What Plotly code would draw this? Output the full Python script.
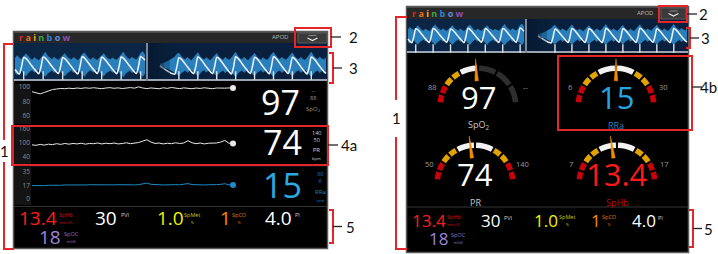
import plotly.graph_objects as go

W, H = 718, 254

# ===================== data =====================
spo2_trend = [93.5, 92.0, 90.5, 92.5, 95.0, 96.5, 97.2, 98.0, 97.6, 98.4,
              97.8, 98.6, 98.0, 98.9, 98.2, 99.0, 98.3, 97.7, 98.6, 99.1,
              98.2, 98.8, 97.9, 98.5, 99.2, 98.4, 100.2, 98.6, 97.8, 98.7,
              98.3, 97.6, 98.9, 98.1, 99.3, 98.4, 97.7, 98.8, 98.2, 97.6,
              98.6, 98.0, 98.9, 98.3, 97.7, 98.6, 98.1, 98.4, 98.7, 98.5]
pr_trend = [92, 90, 94, 91, 95, 93, 97, 94, 98, 95,
            98, 96, 99, 95, 98, 97, 100, 96, 99, 97,
            100, 96, 98, 101, 97, 99, 102, 108, 114, 104,
            98, 100, 96, 99, 97, 101, 98, 100, 110, 101,
            97, 100, 96, 99, 98, 100, 104, 111, 99, 98]
rra_trend = [17.4, 17.2, 17.6, 17.3, 17.8, 17.6, 18.0, 17.8, 18.2, 18.0,
             18.3, 18.1, 18.4, 18.2, 18.5, 18.3, 18.6, 18.4, 18.2, 18.5,
             18.3, 18.6, 18.4, 18.2, 18.5, 18.3, 18.6, 19.4, 20.6, 19.0,
             18.3, 18.5, 18.2, 18.5, 18.3, 18.6, 18.4, 18.9, 20.0, 18.7,
             18.3, 18.5, 18.2, 18.5, 18.3, 18.6, 19.0, 19.8, 18.4, 18.2]
spo2_ticks = [100, 80, 60]
pr_ticks = [160, 100, 40]
rra_ticks = [35, 17, 0]

# pleth waveform (normalised, trough 0 .. peak 1), sweep before / after the erase bar
pleth_a = [0.30, 0.15, 0.05, 0.45, 0.98, 0.92, 0.79, 0.63, 0.47, 0.32,
           0.18, 0.07, 0.46, 1.00, 0.94, 0.80, 0.64, 0.48, 0.33, 0.19,
           0.08, 0.44, 0.97, 0.91, 0.78, 0.62, 0.47, 0.31, 0.17, 0.06,
           0.47, 1.02, 0.95, 0.81, 0.65, 0.49, 0.34, 0.20, 0.08, 0.45,
           0.99, 0.93, 0.79, 0.63, 0.48, 0.32, 0.18, 0.07, 0.46, 1.00,
           0.94, 0.80, 0.64, 0.49, 0.33, 0.19, 0.08, 0.48, 1.03, 0.95,
           0.82]
pleth_b = [0.50, 0.42, 0.34, 0.26, 0.19, 0.12, 0.07, 0.04, 0.44, 0.96,
           0.90, 0.77, 0.61, 0.46, 0.31, 0.17, 0.07, 0.45, 1.00, 0.93,
           0.79, 0.63, 0.47, 0.32, 0.18, 0.07, 0.46, 0.98, 0.92, 0.78,
           0.62, 0.46, 0.31, 0.17, 0.06, 0.44, 1.01, 0.94, 0.80, 0.64,
           0.48, 0.33, 0.19, 0.08, 0.47, 0.99, 0.92, 0.79, 0.63, 0.47,
           0.32, 0.18, 0.07, 0.45, 1.02, 0.95, 0.81, 0.65, 0.49, 0.34,
           0.20, 0.08, 0.46, 0.98, 0.91, 0.78, 0.62, 0.46, 0.31, 0.17,
           0.06, 0.45, 1.00, 0.93, 0.80, 0.64, 0.48, 0.33, 0.19, 0.09]
pleth_a_beats = [4, 13, 22, 31, 40, 49, 58]
pleth_b_beats = [9, 18, 27, 36, 45, 54, 63, 72]

# signal-quality band (upper / lower envelope, same sampling as the pleth)
iq_a_hi = [0.92, 1.08, 0.95, 0.86, 1.02, 1.18, 1.05, 0.90, 0.84, 0.97,
           0.88, 0.80, 0.94, 1.12, 1.26, 1.06, 0.93, 0.86, 0.99, 0.89,
           0.82, 0.95, 1.10, 1.20, 1.01, 0.90, 0.84, 0.98, 0.87, 0.80,
           0.93, 1.14, 1.24, 1.04, 0.91, 0.85, 0.97, 0.88, 0.82, 0.96,
           1.10, 1.19, 1.00, 0.90, 0.86, 0.95, 0.88, 0.83, 0.97, 1.16,
           1.28, 1.06, 0.93, 0.87, 0.99, 0.90, 0.84, 1.00, 1.21, 1.30,
           1.10]
iq_a_lo = [0.12, 0.02, 0.18, 0.25, 0.08, -0.05, 0.10, 0.22, 0.28, 0.15,
           0.24, 0.30, 0.20, 0.05, -0.08, 0.08, 0.20, 0.27, 0.14, 0.23,
           0.29, 0.18, 0.04, -0.06, 0.10, 0.21, 0.28, 0.13, 0.24, 0.30,
           0.19, 0.03, -0.09, 0.09, 0.22, 0.27, 0.15, 0.25, 0.31, 0.17,
           0.02, -0.07, 0.11, 0.21, 0.26, 0.14, 0.24, 0.29, 0.16, 0.03,
           -0.10, 0.08, 0.20, 0.27, 0.13, 0.23, 0.30, 0.15, 0.01, -0.08,
           0.10]
iq_b_hi = [0.60, 0.63, 0.67, 0.72, 0.78, 0.85, 0.92, 1.00, 1.15, 1.22,
           1.05, 0.92, 0.86, 0.98, 0.88, 0.81, 0.95, 1.12, 1.25, 1.04,
           0.91, 0.85, 0.97, 0.87, 0.80, 0.94, 1.09, 1.20, 1.02, 0.90,
           0.84, 0.98, 0.89, 0.83, 0.96, 1.13, 1.27, 1.05, 0.92, 0.86,
           0.99, 0.88, 0.81, 0.95, 1.10, 1.21, 1.03, 0.90, 0.85, 0.97,
           0.87, 0.82, 0.96, 1.15, 1.26, 1.06, 0.93, 0.87, 0.98, 0.89,
           0.83, 0.97, 1.12, 1.23, 1.04, 0.91, 0.86, 0.99, 0.88, 0.82,
           0.95, 1.14, 1.28, 1.07, 0.94, 0.88, 1.00, 0.90, 0.85, 0.97]
iq_b_lo = [0.50, 0.47, 0.43, 0.38, 0.33, 0.27, 0.22, 0.15, 0.05, -0.04,
           0.10, 0.21, 0.27, 0.14, 0.24, 0.30, 0.19, 0.04, -0.07, 0.09,
           0.22, 0.28, 0.15, 0.25, 0.31, 0.18, 0.03, -0.06, 0.10, 0.21,
           0.27, 0.13, 0.23, 0.29, 0.17, 0.02, -0.09, 0.08, 0.20, 0.26,
           0.14, 0.24, 0.30, 0.18, 0.04, -0.05, 0.11, 0.22, 0.28, 0.15,
           0.25, 0.31, 0.17, 0.02, -0.08, 0.09, 0.21, 0.27, 0.13, 0.23,
           0.29, 0.16, 0.03, -0.07, 0.10, 0.22, 0.28, 0.14, 0.24, 0.30,
           0.18, 0.02, -0.10, 0.08, 0.20, 0.26, 0.12, 0.23, 0.29, 0.16]

trend_names = ["SpO<sub>2</sub>", "PR", "RRa"]
trend_values = ["97", "74", "15"]
trend_hi = ["--", "140", "30"]
trend_lo = ["88", "50", "6"]
trend_units = ["", "bpm", "rpm"]

gauge_names = ["SpO<sub>2</sub>", "RRa", "PR", "SpHb"]
gauge_values = ["97", "15", "74", "13.4"]
gauge_lo = ["88", "6", "50", "7"]
gauge_hi = ["--", "30", "140", "17"]
gauge_needle_deg = [93, 90, 97, 98]

param_names = ["SpHb", "PVI", "SpMet", "SpCO", "PI", "SpOC"]
param_values = ["13.4", "30", "1.0", "1", "4.0", "18"]
param_units = ["mmol/L", "", "%", "%", "", "ml/dl"]

callouts_left = ["1", "2", "3", "4a", "5"]
callouts_right = ["1", "2", "3", "4b", "5"]

# ===================== styles / layout constants =====================
FONT = "Open Sans"
LFONT = "Lato"
RED = "#e3262a"
NAVY_A = "#0b2545"
NAVY_B = "#08203d"
GAUGE_COL = {"alarm": "#c8000a", "warn": "#e2a300", "ok": "#f2f2f2", "off": "#2e2e2e"}
NEEDLE = "#f28c00"
PARAM_COL = ["#ff1e1e", "#ffffff", "#f2f200", "#ff8c00", "#ffffff", "#9d86dc"]
PARAM_LCOL = ["#d01414", "#d0d0d0", "#c8c81e", "#e07810", "#d0d0d0", "#8c74cc"]


def PX(x):
    return x / W


def PY(y):
    return 1 - y / H


shapes, ann = [], []


def rect(x0, y0, x1, y1, fill=None, line=None, lw=0, layer="below", opacity=1):
    d = dict(type="rect", xref="paper", yref="paper", x0=PX(x0), x1=PX(x1),
             y0=PY(y1), y1=PY(y0), layer=layer, line=dict(width=lw), opacity=opacity)
    if fill:
        d["fillcolor"] = fill
    if line:
        d["line"]["color"] = line
    shapes.append(d)


def seg(x0, y0, x1, y1, color, lw, layer="above"):
    shapes.append(dict(type="line", xref="paper", yref="paper", x0=PX(x0), x1=PX(x1),
                       y0=PY(y0), y1=PY(y1), layer=layer, line=dict(color=color, width=lw)))


def poly(points, color, lw, layer="above"):
    p = "M " + " L ".join(f"{PX(x):.5f},{PY(y):.5f}" for x, y in points)
    shapes.append(dict(type="path", xref="paper", yref="paper", path=p, layer=layer,
                       line=dict(color=color, width=lw)))


def text(x, y, s, size, color, xa="center", ya="middle", family=FONT):
    ann.append(dict(x=PX(x), y=PY(y), xref="paper", yref="paper", text=s, showarrow=False,
                    xanchor=xa, yanchor=ya, borderpad=0,
                    font=dict(size=size, color=color, family=family)))


def lin_range(d0, d1, v0, p0, v1, p1):
    k = (p1 - p0) / (v1 - v0)
    return [v0 + (d0 - p0) / k, v0 + (d1 - p0) / k]


fig = go.Figure()
layout = {}
axis_k = [0]


def new_axes(xdom, xr, ydom_px, yr, ytick=None):
    axis_k[0] += 1
    k = axis_k[0]
    sx = "" if k == 1 else str(k)
    xa = dict(domain=[PX(xdom[0]), PX(xdom[1])], range=xr, visible=False,
              anchor="y" + sx, fixedrange=True)
    ya = dict(domain=[PY(ydom_px[1]), PY(ydom_px[0])], range=yr, anchor="x" + sx,
              showgrid=False, zeroline=False, showline=False, fixedrange=True, automargin=False)
    if ytick:
        ya.update(tickvals=ytick, ticktext=[str(v) for v in ytick], ticks="",
                  tickfont=dict(size=6.5, color="#8e8e8e", family=FONT))
    else:
        ya["visible"] = False
    layout["xaxis" + sx] = xa
    layout["yaxis" + sx] = ya
    return "x" + sx, "y" + sx


rainbow_cols = ["#e42521", "#ec6a1c", "#f0b414", "#3aa84a", "#2f7fd6", "#5b8fe0", "#8b4fb3"]
rainbow_txt = "<b>" + " ".join(f"<span style='color:{c}'>{ch}</span>"
                               for ch, c in zip("rainbow", rainbow_cols)) + "</b>"


def screen(x0, y0, x1, y1, head_b, wave_b, split):
    rect(x0 - 0.5, y0 - 0.5, x1 + 0.5, y1 + 0.5, fill="#000000", line="#5a5a5a", lw=1.5)
    rect(x0, y0, x1, head_b, fill="#272727")
    seg(x0, y0 + 0.5, x1, y0 + 0.5, "#4a4a4a", 1, layer="below")
    rect(x0, head_b, split, wave_b, fill=NAVY_A)
    rect(split, head_b, x1, wave_b, fill=NAVY_B)
    rect(x0, wave_b - 2, split - 1, wave_b, fill="#9aa5b3")
    rect(split + 1, wave_b - 2, x1, wave_b, fill="#9aa5b3")
    seg(split, head_b, split, wave_b, "#c8d0d8", 1.2, layer="above")
    text(x0 + 4, (y0 + head_b) / 2 + 0.5, rainbow_txt, 9, "#fff", xa="left")


def button(x0, y0, x1, y1):
    rect(x0, y0, x1, y1, fill="#3a3a3a", line="#5c5c5c", lw=1, layer="above")
    cx, cy = (x0 + x1) / 2, (y0 + y1) / 2
    poly([(cx - 5, cy), (cx, cy + 2.5), (cx + 5, cy)], "#e8e8e8", 1.2)
    seg(cx - 4, cy - 2.5, cx + 4, cy - 2.5, "#9a9a9a", 0.8)


def pleth(dom_a, dom_b, a_first, a_last, b_first, b_last, ytop, ybot, v0px, v1px, mark_px, fade):
    yr = lin_range(ybot, ytop, 0, v0px, 1, v1px)
    mark_v = (v0px - mark_px) / (v0px - v1px)
    for dom, first, last, y, hi, lo, beats in [
            (dom_a, a_first, a_last, pleth_a, iq_a_hi, iq_a_lo, pleth_a_beats),
            (dom_b, b_first, b_last, pleth_b, iq_b_hi, iq_b_lo, pleth_b_beats)]:
        n = len(y)
        xr = lin_range(dom[0], dom[1], 0, first, n - 1, last)
        xs, ys = new_axes(dom, xr, (ytop, ybot), yr)
        idx = list(range(n))
        fig.add_trace(go.Scatter(x=idx, y=lo, mode="lines", line=dict(width=0.5, color="rgba(46,140,205,0.9)"),
                                 xaxis=xs, yaxis=ys, hoverinfo="skip"))
        fig.add_trace(go.Scatter(x=idx, y=hi, mode="lines", fill="tonexty",
                                 fillcolor="rgba(46,140,205,0.88)",
                                 line=dict(width=0.5, color="rgba(46,140,205,0.9)"),
                                 xaxis=xs, yaxis=ys, hoverinfo="skip"))
        fig.add_trace(go.Scatter(x=idx, y=y, mode="lines", line=dict(width=1.6, color="#e8eef4", shape="spline", smoothing=0.6),
                                 xaxis=xs, yaxis=ys, hoverinfo="skip"))
        fig.add_trace(go.Scatter(x=beats, y=[mark_v] * len(beats), mode="markers",
                                 marker=dict(symbol="line-ns", size=6, line=dict(width=1.4, color="#dfe4ea")),
                                 xaxis=xs, yaxis=ys, hoverinfo="skip", cliponaxis=False))
    # erase-bar fade at start of the newer sweep
    fx0, fx1 = fade
    step = (fx1 - fx0) / 4
    for i, op in enumerate([0.95, 0.75, 0.5, 0.25]):
        rect(fx0 + i * step, ytop, fx0 + (i + 1) * step, ybot - 2, fill="#071a33", layer="above", opacity=op)


def stacked(x, y, top, bottom, size, small, color, xa="center"):
    s = top if not bottom else f"{top}<br><span style='font-size:{small}px'>{bottom}</span>"
    text(x, y, s, size, color, xa=xa)


# ===================== LEFT screen (trend view) =====================
screen(14, 32, 327, 248, 43, 81, 147)
text(280, 37.5, "APOD", 6, "#b8b8b8")
button(298, 33, 327, 43)
pleth((14, 146), (148, 327), 15, 145, 160, 326, 43, 81, 75, 57, 75.5, (148, 170))

# trend strips
trend_defs = [
    (spo2_trend, spo2_ticks, (84, 124), (100, 87, 60, 116), "#e8e8e8"),
    (pr_trend, pr_ticks, (127, 165), (160, 129, 40, 157), "#e8e8e8"),
    (rra_trend, rra_ticks, (167, 205), (35, 172, 0, 199), "#1b8ac6"),
]
for arr, ticks, (yt, yb), (va, pa, vb, pb), col in trend_defs:
    rect(14, yt, 31, yb, fill="#141414")
    n = len(arr)
    xr = lin_range(31, 327, 0, 32, n - 1, 233)
    yr = lin_range(yb, yt, va, pa, vb, pb)
    xs, ys = new_axes((31, 327), xr, (yt, yb), yr, ytick=ticks)
    fig.add_trace(go.Scatter(x=list(range(n)), y=arr, mode="lines", line=dict(width=1, color=col),
                             xaxis=xs, yaxis=ys, hoverinfo="skip"))
    fig.add_trace(go.Scatter(x=[n - 1], y=[arr[-1]], mode="markers", marker=dict(size=6, color=col),
                             xaxis=xs, yaxis=ys, hoverinfo="skip", cliponaxis=False))
seg(14, 125.5, 327, 125.5, "#1e1e1e", 1, layer="below")
seg(14, 166, 327, 166, "#1e1e1e", 1, layer="below")
seg(14, 206.5, 327, 206.5, "#363636", 1.2, layer="below")

num_pos = [(280, 102), (282, 142), (282, 185)]
num_col = ["#ffffff", "#ffffff", "#2aa9e2"]
small_col = ["#9a9a9a", "#cfcfcf", "#1f86bf"]
small_x = [313, 316, 320]
hilo_y = [94, 136, 177.5]
name_y = [109, 153, 195]
for i in range(3):
    x, y = num_pos[i]
    text(x, y, trend_values[i], 34, num_col[i])
    stacked(small_x[i], hilo_y[i], trend_hi[i], trend_lo[i], 5.5, 5.5, small_col[i])
    stacked(small_x[i], name_y[i], trend_names[i], trend_units[i], 6, 4, small_col[i])


def params(vpos, lx, vsize):
    for i in range(6):
        x, y = vpos[i]
        text(x, y, param_values[i], vsize, PARAM_COL[i])
        if param_units[i]:
            stacked(lx[i], y, param_names[i], param_units[i], 5.5, 3.8, PARAM_LCOL[i], xa="left")
        else:
            text(lx[i], y - 2.5, param_names[i], 5.5, PARAM_LCOL[i], xa="left")


params([(38, 217.5), (106, 217.5), (170, 217.5), (225, 217.5), (278, 217.5), (50, 237)],
       [58, 120, 183, 231, 294, 63], 19)

# ===================== RIGHT screen (gauge view) =====================
screen(407, 7, 688, 252, 19, 53, 526)
text(645, 13, "APOD", 6, "#b8b8b8")
button(661, 8, 686, 19)
pleth((407, 525), (527, 688), 408, 524, 538, 687, 19, 53, 43.5, 28.5, 48.5, (527, 547))
seg(407, 207, 688, 207, "#363636", 1.2, layer="below")

RP = 48
ARC_IN, ARC_OUT = 0.46, 0.69
sym_zones = ["alarm", "alarm", "warn", "warn", "ok", "ok", "warn", "warn", "alarm", "alarm"]
sym_pitch = [15, 15, 15, 15, 30, 30, 15, 15, 15, 15]
spo2_zones = ["alarm", "alarm", "warn", "warn", "ok", "off", "off", "off"]
spo2_pitch = [15, 15, 15, 15, 30, 30, 30, 30]
gauge_centers = [(478, 106), (616, 106), (475, 183), (617, 183)]
gauge_zone_sets = [(spo2_zones, spo2_pitch), (sym_zones, sym_pitch), (sym_zones, sym_pitch), (sym_zones, sym_pitch)]
gauge_val_col = ["#ffffff", "#25a6e0", "#ffffff", "#ff1a1a"]
gauge_name_col = ["#c8c8c8", "#1e86c4", "#c8c8c8", "#c80000"]


def segments(pitches, start=176.0, end=4.0, gap=3.2):
    scale = (start - end) / sum(pitches)
    th, wd, a = [], [], start
    for p in pitches:
        w = p * scale
        th.append(a - w / 2)
        wd.append(w - gap)
        a -= w
    return th, wd


for j, (cx, cy) in enumerate(gauge_centers):
    pname = "polar" if j == 0 else f"polar{j + 1}"
    layout[pname] = dict(domain=dict(x=[PX(cx - RP), PX(cx + RP)], y=[PY(cy), PY(cy - RP)]),
                         sector=[0, 180], hole=0.5, bgcolor="rgba(0,0,0,0)",
                         radialaxis=dict(visible=False, range=[0, 1]),
                         angularaxis=dict(visible=False))
    zones, pitch = gauge_zone_sets[j]
    th, wd = segments(pitch)
    fig.add_trace(go.Barpolar(theta=th, width=wd, r=[ARC_OUT - ARC_IN] * len(th), base=[ARC_IN] * len(th),
                              marker=dict(color=[GAUGE_COL[z] for z in zones], line=dict(width=0)),
                              subplot=pname, hoverinfo="skip"))
    a = gauge_needle_deg[j]
    fig.add_trace(go.Scatterpolar(theta=[a + 4, a, a - 4, a + 4], r=[0.05, 0.97, 0.05, 0.05], mode="lines",
                                  fill="toself", fillcolor=NEEDLE, line=dict(color=NEEDLE, width=0.5),
                                  subplot=pname, hoverinfo="skip"))
    text(cx, cy - 9, gauge_values[j], 31, gauge_val_col[j])
    text(cx - 46, cy - 19, gauge_lo[j], 7.5, "#9a9a9a")
    text(cx + 47, cy - 19, gauge_hi[j], 7.5, "#9a9a9a")
    text(cx, cy + 19, gauge_names[j], 9, gauge_name_col[j])

params([(429, 220), (490, 220), (546, 220), (596, 220), (644, 220), (438, 238)],
       [446, 503, 558, 601, 657, 450], 17)


# ===================== call-outs =====================
def box_callout(x0, y0, x1, y1, dy, label, lx):
    rect(x0, y0, x1, y1, line=RED, lw=2, layer="above")
    seg(x1, dy, x1 + 10, dy, "#222222", 1.3)
    text(lx, dy, label, 15, "#111111", family=LFONT)


def bracket_callout(x, y0, y1, label, lx):
    poly([(x - 4, y0), (x, y0), (x, y1), (x - 4, y1)], RED, 2)
    my = (y0 + y1) / 2
    seg(x, my, x + 9, my, "#222222", 1.3)
    text(lx, my, label, 15, "#111111", family=LFONT)


def side_bracket(x, xin, y0, y1, gap0, gap1, label, ly):
    poly([(xin, y0), (x, y0), (x, gap0)], RED, 2)
    poly([(x, gap1), (x, y1), (xin, y1)], RED, 2)
    text(x, ly, label, 15, "#111111", family=LFONT)


side_bracket(4, 14, 44, 249, 140, 162, callouts_left[0], 151)
box_callout(295, 28, 331, 47, 37, callouts_left[1], 353)
bracket_callout(333, 53, 83, callouts_left[2], 353)
box_callout(12, 126, 328, 165, 145, callouts_left[3], 349)
bracket_callout(333, 210, 243, callouts_left[4], 350)

side_bracket(396, 407, 17, 249, 100, 137, callouts_right[0], 118)
box_callout(659, 6, 687, 22, 14, callouts_right[1], 703)
bracket_callout(690, 28, 48, callouts_right[2], 705)
box_callout(558, 56, 692, 130, 87, callouts_right[3], 708)
bracket_callout(693, 210, 247, callouts_right[4], 708)

fig.update_layout(width=W, height=H, margin=dict(l=0, r=0, t=0, b=0), autosize=False,
                  paper_bgcolor="#ffffff", plot_bgcolor="rgba(0,0,0,0)", showlegend=False,
                  hovermode=False, shapes=shapes, annotations=ann, **layout)
fig.write_html("out.html", config={"displayModeBar": False, "staticPlot": True},
               post_script="document.body.style.margin='0';document.body.style.overflow='hidden';")
